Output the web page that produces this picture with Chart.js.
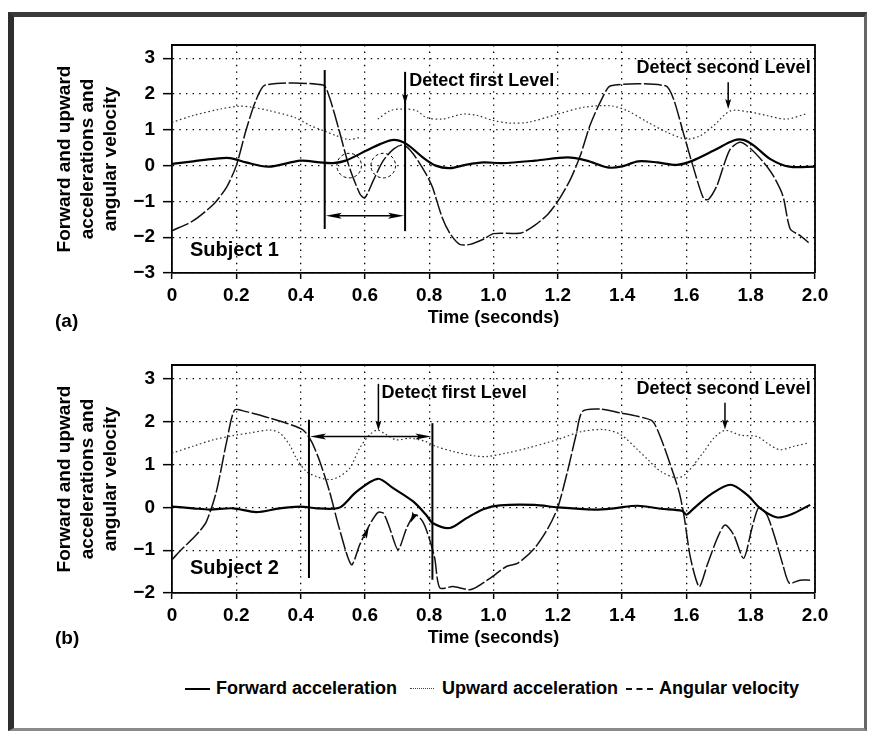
<!DOCTYPE html>
<html><head><meta charset="utf-8">
<script src="https://cdn.jsdelivr.net/npm/chart.js@4/dist/chart.umd.min.js"></script>
<style>
html,body{margin:0;padding:0;background:#fff;}
#page{position:relative;width:872px;height:734px;overflow:hidden;background:#fff;font-family:'Liberation Sans',Arial,sans-serif;font-weight:bold;color:#000;}
#frame{position:absolute;left:8px;top:12px;width:850px;height:711px;border-left:6px solid #2e2e2e;border-top:5px solid #3a3a3a;border-right:3px solid #666;border-bottom:3px solid #8a8a8a;}
canvas{position:absolute;left:0;}
#c1{top:0;}
#c2{top:340px;}
.lab{position:absolute;font-size:19px;line-height:22px;}
.leg{position:absolute;top:677px;font-size:18px;line-height:22px;white-space:nowrap;}
.sw{position:absolute;top:688px;height:0;}
</style></head>
<body><div id="page">
<div id="frame"></div>
<canvas id="c1" width="872" height="340"></canvas>
<canvas id="c2" width="872" height="320"></canvas>
<div class="lab" style="left:55px;top:310px">(a)</div>
<div class="lab" style="left:55px;top:627px">(b)</div>
<div id="legendBox"></div>
</div>
<script>
// ---------------- data ----------------
const xTickLabels = ['0','0.2','0.4','0.6','0.8','1.0','1.2','1.4','1.6','1.8','2.0'];
const seriesNames = ['Forward acceleration','Upward acceleration','Angular velocity'];
const yTitleLines = ['Forward and upward','accelerations and','angular velocity'];
const xTitle = 'Time (seconds)';

// Subject 1 (a)
const s1FwdT = [0,0.066,0.13,0.18,0.23,0.30,0.40,0.46,0.50,0.54,0.605,0.647,0.69,0.73,0.78,0.82,0.865,0.917,0.97,1.025,1.13,1.23,1.29,1.355,1.396,1.45,1.51,1.57,1.62,1.685,1.747,1.778,1.81,1.86,1.92,2.0];
const s1FwdV = [0.05,0.12,0.19,0.21,0.09,-0.03,0.14,0.09,0.07,0.14,0.42,0.60,0.72,0.60,0.23,0.0,-0.07,0.03,0.09,0.07,0.14,0.23,0.14,-0.05,-0.03,0.12,0.09,0.02,0.14,0.42,0.70,0.72,0.56,0.19,-0.03,-0.03];
const s1UpT = [0,0.066,0.15,0.21,0.25,0.30,0.38,0.43,0.47,0.51,0.55,0.585,0.61,0.64,0.68,0.72,0.76,0.79,0.84,0.905,0.95,1.0,1.05,1.107,1.2,1.28,1.365,1.417,1.48,1.54,1.6,1.644,1.685,1.737,1.8,1.85,1.91,1.97];
const s1UpV = [1.21,1.40,1.58,1.66,1.63,1.54,1.35,1.12,0.98,0.84,0.73,0.79,null,1.30,1.54,1.58,1.54,1.35,1.30,1.44,1.40,1.26,1.19,1.21,1.44,1.63,1.67,1.53,1.21,0.93,0.74,0.84,1.12,1.53,1.49,1.40,1.30,1.44];
const s1AngT = [0,0.066,0.13,0.17,0.20,0.23,0.26,0.29,0.47,0.49,0.52,0.55,0.585,0.60,0.626,0.657,0.69,0.72,0.75,0.79,0.81,0.84,0.865,0.895,0.927,0.97,1.0,1.086,1.128,1.17,1.205,1.24,1.27,1.30,1.334,1.365,1.535,1.56,1.59,1.623,1.654,1.67,1.695,1.716,1.737,1.768,1.80,1.84,1.87,1.90,1.923,1.953,1.98];
const s1AngV = [-1.82,-1.54,-1.07,-0.60,0.0,0.98,1.80,2.25,2.25,1.90,0.98,0.0,-0.80,-0.90,-0.42,0.14,0.47,0.58,0.33,-0.23,-0.60,-1.44,-1.90,-2.20,-2.20,-2.05,-1.90,-1.88,-1.67,-1.35,-0.93,-0.37,0.28,1.12,1.81,2.23,2.23,1.86,0.93,-0.09,-0.93,-0.93,-0.56,0.0,0.47,0.65,0.47,0.09,-0.28,-0.84,-1.77,-1.95,-2.15];

// Subject 2 (b)
const s2FwdT = [0,0.065,0.117,0.19,0.262,0.335,0.397,0.45,0.50,0.527,0.574,0.64,0.688,0.75,0.79,0.812,0.864,0.916,0.968,1.02,1.128,1.2,1.314,1.375,1.448,1.52,1.587,1.60,1.623,1.675,1.737,1.788,1.83,1.88,1.923,1.985];
const s2FwdV = [0.02,-0.02,-0.05,-0.02,-0.11,-0.02,0.02,-0.02,-0.03,0.02,0.37,0.67,0.45,0.14,-0.17,-0.37,-0.48,-0.25,-0.04,0.05,0.06,0.0,-0.05,-0.02,0.04,-0.03,-0.08,-0.17,-0.02,0.30,0.53,0.30,-0.02,-0.23,-0.17,0.06];
const s2UpT = [0,0.065,0.128,0.19,0.24,0.304,0.335,0.366,0.387,0.418,0.45,0.49,0.52,0.553,0.584,0.615,0.64,0.667,0.698,0.74,0.79,0.82,0.874,0.937,0.978,1.04,1.107,1.2,1.272,1.345,1.396,1.448,1.48,1.52,1.572,1.60,1.655,1.685,1.72,1.768,1.82,1.85,1.89,1.935,1.98];
const s2UpV = [1.27,1.43,1.58,1.68,1.74,1.81,1.74,1.46,1.15,0.84,0.72,0.65,0.72,0.92,1.39,1.70,1.81,1.70,1.58,1.62,1.54,1.43,1.31,1.21,1.19,1.27,1.39,1.59,1.77,1.82,1.70,1.35,1.12,0.84,0.69,0.80,1.31,1.62,1.80,1.69,1.66,1.51,1.35,1.43,1.51];
const s2AngT = [0,0.034,0.076,0.107,0.138,0.17,0.195,0.23,0.304,0.356,0.408,0.434,0.46,0.49,0.52,0.558,0.584,0.615,0.64,0.657,0.677,0.703,0.73,0.755,0.78,0.80,0.817,0.833,0.874,0.93,0.99,1.04,1.076,1.128,1.17,1.20,1.23,1.257,1.277,1.334,1.395,1.448,1.494,1.52,1.55,1.577,1.592,1.613,1.64,1.665,1.696,1.72,1.747,1.778,1.804,1.825,1.85,1.876,1.90,1.92,1.953,1.985];
const s2AngV = [-1.22,-0.95,-0.64,-0.33,0.37,1.54,2.28,2.24,2.09,1.97,1.81,1.54,1.07,0.37,-0.48,-1.34,-0.87,-0.40,-0.12,-0.13,-0.48,-0.99,-0.48,-0.17,-0.33,-0.72,-1.18,-1.88,-1.85,-1.92,-1.65,-1.38,-1.30,-0.95,-0.48,0.0,0.84,1.70,2.25,2.30,2.21,2.13,2.02,1.63,1.0,0.375,-0.17,-1.19,-1.85,-1.34,-0.72,-0.41,-0.64,-1.19,-0.48,0.0,-0.17,-0.72,-1.34,-1.77,-1.70,-1.70];

// annotations (data coordinates)
const s1Marks = {
  vlines: [{t:0.475,v1:2.67,v2:-1.77},{t:0.725,v1:2.62,v2:-1.83}],
  span: {t1:0.475,t2:0.725,v:-1.4},
  circles: [{t:0.551,v:0},{t:0.657,v:0}],
  arrows: [{t:0.725,v1:1.95,v2:1.72},{t:1.73,v1:2.33,v2:1.58}],
  texts: [{t:0.738,v:2.37,s:'Detect first Level'},{t:1.445,v:2.72,s:'Detect second Level'},{t:0.056,v:-2.37,s:'Subject 1',big:true}],
  heads: []
};
const s2Marks = {
  vlines: [{t:0.426,v1:2.05,v2:-1.65},{t:0.81,v1:1.97,v2:-1.69}],
  span: {t1:0.426,t2:0.81,v:1.66},
  circles: [],
  arrows: [{t:0.642,v1:2.89,v2:1.80},{t:1.72,v1:2.45,v2:1.82}],
  texts: [{t:0.652,v:2.67,s:'Detect first Level'},{t:1.445,v:2.76,s:'Detect second Level'},{t:0.056,v:-1.42,s:'Subject 2',big:true}],
  heads: [{t:0.612,v:-0.47,a:-65},{t:0.742,v:-0.36,a:115}]
};

// ---------------- drawing ----------------
const FONT = "'Liberation Sans', Arial, Helvetica, sans-serif";
Chart.defaults.font.family = FONT;
Chart.defaults.font.weight = 'bold';
Chart.defaults.color = '#000';

function pts(T,V){ return T.map((t,i)=>({x:t,y:V[i]})); }

function head(ctx,x,y,ang,len,w){
  ctx.save(); ctx.translate(x,y); ctx.rotate(ang);
  ctx.beginPath(); ctx.moveTo(0,0); ctx.lineTo(-len,-w/2); ctx.lineTo(-len*0.8,0); ctx.lineTo(-len,w/2); ctx.closePath(); ctx.fill();
  ctx.restore();
}

const annot = {
  id:'annot',
  afterDatasetsDraw(chart,args,opts){
    const m = opts.marks; if(!m) return;
    const {ctx, chartArea:a, scales:{x,y}} = chart;
    const X=t=>x.getPixelForValue(t), Y=v=>y.getPixelForValue(v);
    ctx.save();
    ctx.strokeStyle='#000'; ctx.fillStyle='#000'; ctx.setLineDash([]);
    ctx.lineWidth=1.8;
    ctx.beginPath(); ctx.moveTo(a.left,a.top); ctx.lineTo(a.right,a.top); ctx.lineTo(a.right,a.bottom); ctx.stroke();
    ctx.lineWidth=2;
    m.vlines.forEach(l=>{ctx.beginPath(); ctx.moveTo(X(l.t),Y(l.v1)); ctx.lineTo(X(l.t),Y(l.v2)); ctx.stroke();});
    const s=m.span, xa=X(s.t1), xb=X(s.t2), ya=Y(s.v);
    ctx.lineWidth=1.6;
    ctx.beginPath(); ctx.moveTo(xa+10,ya); ctx.lineTo(xb-10,ya); ctx.stroke();
    head(ctx,xa+1,ya,Math.PI,16,6); head(ctx,xb-1,ya,0,16,6);
    ctx.lineWidth=1.5;
    m.arrows.forEach(r=>{const xx=X(r.t); ctx.beginPath(); ctx.moveTo(xx,Y(r.v1)); ctx.lineTo(xx,Y(r.v2)-6); ctx.stroke(); head(ctx,xx,Y(r.v2),Math.PI/2,10,6);});
    m.heads.forEach(h=>head(ctx,X(h.t),Y(h.v),h.a*Math.PI/180,11,6));
    ctx.lineWidth=1; ctx.setLineDash([3,2.5]);
    m.circles.forEach(c=>{ctx.beginPath(); ctx.arc(X(c.t),Y(c.v),12.3,0,Math.PI*2); ctx.stroke();});
    ctx.setLineDash([]);
    ctx.textAlign='left'; ctx.textBaseline='middle';
    m.texts.forEach(tx=>{ctx.font='bold '+(tx.big?20:18)+'px '+FONT; ctx.fillText(tx.s,X(tx.t),Y(tx.v));});
    ctx.restore();
  }
};

function makeChart(id,padTop,yMin,yMax,F,U,A,marks){
  return new Chart(document.getElementById(id),{
    type:'line',
    data:{datasets:[
      {label:seriesNames[0],data:pts(F[0],F[1]),borderColor:'#000',borderWidth:2.2,tension:0.3},
      {label:seriesNames[1],data:pts(U[0],U[1]),borderColor:'#333',borderWidth:1.2,borderDash:[1.6,2.6],tension:0.3,spanGaps:false},
      {label:seriesNames[2],data:pts(A[0],A[1]),borderColor:'#111',borderWidth:1.5,borderDash:[18,2.5],tension:0.25}
    ]},
    options:{
      responsive:false, animation:false, devicePixelRatio:1,
      layout:{padding:{top:padTop,right:57,left:0,bottom:0}},
      elements:{point:{radius:0},line:{fill:false}},
      plugins:{legend:{display:false},tooltip:{enabled:false},annot:{marks:marks}},
      scales:{
        x:{type:'linear',min:0,max:2,
          afterFit(s){s.height=67;},
          ticks:{stepSize:0.2,padding:5,autoSkip:false,maxRotation:0,font:{size:19,lineHeight:1.2},callback:(v,i)=>xTickLabels[i]},
          grid:{color:'#000',lineWidth:1.3,tickLength:6,tickColor:'#000',tickWidth:1.5,tickBorderDash:[]},
          border:{display:true,color:'#000',width:1.8,dash:[1.4,5.2]},
          title:{display:true,text:xTitle,font:{size:18,lineHeight:'20px'},padding:{top:0,bottom:12}}
        },
        y:{type:'linear',min:yMin,max:yMax,
          afterFit(s){s.width=172;},
          ticks:{stepSize:1,includeBounds:false,padding:8,font:{size:19},callback:v=>v<0?'\u2212'+Math.abs(v):String(v)},
          grid:{color:'#000',lineWidth:1.3,tickLength:9,tickColor:'#000',tickWidth:1.5,tickBorderDash:[]},
          border:{display:true,color:'#000',width:1.8,dash:[1.4,5.2]},
          title:{display:true,text:yTitleLines,font:{size:19,lineHeight:'23px'},padding:{top:53,bottom:0}}
        }
      }
    },
    plugins:[annot]
  });
}

makeChart('c1',45,-3,3.37,[s1FwdT,s1FwdV],[s1UpT,s1UpV],[s1AngT,s1AngV],s1Marks);
makeChart('c2',25,-2,3.33,[s2FwdT,s2FwdV],[s2UpT,s2UpV],[s2AngT,s2AngV],s2Marks);

(function(){
  const box=document.getElementById('legendBox');
  const sw=[{l:185,w:25,st:'2px solid #000'},{l:410,w:24,st:'1.5px dotted #444'},{l:626,w:27,st:'2px dashed #111'}];
  const tl=[216,442,659];
  seriesNames.forEach((n,i)=>{
    const s=document.createElement('div'); s.className='sw';
    s.style.left=sw[i].l+'px'; s.style.width=sw[i].w+'px'; s.style.borderTop=sw[i].st; box.appendChild(s);
    const t=document.createElement('div'); t.className='leg'; t.style.left=tl[i]+'px'; t.textContent=n; box.appendChild(t);
  });
})();
</script>
</body></html>
